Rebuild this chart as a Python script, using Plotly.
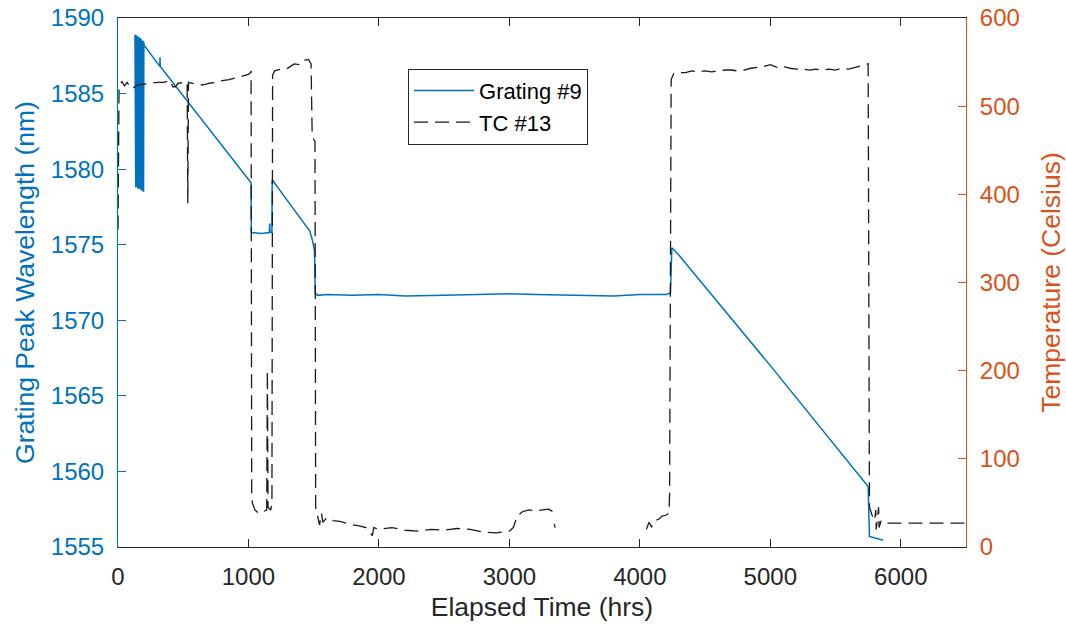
import plotly.graph_objects as go

# ---------------- data ----------------
# Grating #9 peak wavelength (nm) vs elapsed time (hrs)
grating_time = [130, 132, 134, 136, 138, 140, 142, 144, 146, 148, 150, 152, 154, 156, 158, 160, 162, 164,
                166, 168, 170, 172, 174, 176, 178, 180, 182, 184, 186, 188, 190, 192, 194, 196, 198,
                200, 320, 322, 324, 1020,
                1022, 1100, 1160, 1163, 1166, 1180,
                1182, 1300, 1400, 1470, 1490, 1500, 1506, 1512, 1530,
                1600, 1800, 2000, 2200, 2500, 2800, 3000, 3200, 3500, 3800, 4000, 4200, 4235,
                4245, 4300, 5000, 5750,
                5760, 5865]
grating_wl = [1588.9, 1578.8, 1588.9, 1578.8, 1588.9, 1578.8, 1588.8, 1578.8, 1588.8, 1578.8, 1588.8,
              1578.7, 1588.8, 1578.7, 1588.7, 1578.7, 1588.7, 1578.7, 1588.7, 1578.7, 1588.7, 1578.7,
              1588.6, 1578.6, 1588.6, 1578.6, 1588.6, 1578.6, 1588.5, 1578.6, 1588.5, 1578.5, 1588.5,
              1578.5, 1588.4,
              1588.2, 1586.8, 1587.4, 1586.8, 1579.1,
              1575.8, 1575.75, 1575.8, 1576.4, 1575.8, 1575.8,
              1579.3, 1577.9, 1576.7, 1575.9, 1575.3, 1574.7, 1574.6, 1571.8, 1571.65,
              1571.7, 1571.65, 1571.7, 1571.6, 1571.65, 1571.7, 1571.75, 1571.7, 1571.65, 1571.6,
              1571.7, 1571.7, 1571.8,
              1574.8, 1574.3, 1567.0, 1559.0,
              1555.7, 1555.45]

# TC #13 temperature (Celsius) vs elapsed time (hrs)
tc_time = [0, 8, 30, 50, 70, 100, 120, 150, 200, 250, 300, 350, 400, 420, 440, 460, 500, 530, 535, 540,
           600, 650, 700, 750, 800, 850, 900, 950, 1000, 1015, 1020,
           1025, 1030, 1050, 1080, 1110, 1140, 1145, 1150, 1170, 1180,
           1185, 1200, 1250, 1300, 1350, 1400, 1430, 1460, 1480, 1488, 1500, 1510,
           1515, 1530, 1545, 1560, 1570, 1600, 1650, 1700, 1750, 1800, 1850, 1900, 1950, 1960,
           2000, 2100, 2200, 2300, 2400, 2500, 2600, 2700, 2800, 2900, 2950, 3000, 3030, 3060,
           3100, 3150, 3200, 3250, 3300, 3335, 3340, 3345, 3350, 3360,
           4050, 4070, 4090, 4120, 4150, 4170, 4200, 4220, 4225, 4228,
           4240, 4260, 4300, 4350, 4400, 4450, 4500, 4550, 4600, 4650, 4700, 4750, 4800, 4850,
           4900, 4950, 5000, 5050, 5100, 5150, 5200, 5250, 5300, 5350, 5400, 5450, 5500, 5550,
           5600, 5650, 5700, 5740, 5750,
           5760, 5780, 5800, 5808, 5812, 5830, 5834, 5850, 5870, 5890, 6500]
tc_temp = [360, 522, 528, 523, 527, 520, 521, 524, 525, 526, 527, 527, 529, 522, 522, 526, 527, 527, 390, 527,
           525, 524, 526, 527, 529, 530, 532, 534, 536, 538, 540,
           60, 50, 42, 38, 40, 42, 200, 45, 42, 48,
           535, 540, 542, 543, 548, 547, 552, 553, 548, 470, 462, 460,
           45, 35, 25, 38, 28, 33, 30, 29, 27, 25, 24, 22, 13, 22,
           20, 22, 19, 18, 20, 19, 21, 20, 17, 16, 17, 18, 22, 35,
           40, 42, 41, 42, 43, 40, None, 26, 22, None,
           20, 28, 23, 30, 32, 35, 36, 38, 45, 60,
           530, 537, 538, 538, 540, 539, 540, 539, 540, 541, 541, 540, 541, 543,
           544, 545, 547, 544, 545, 543, 542, 542, 541, 542, 541, 542, 541, 543,
           542, 544, 546, 547, 548,
           45, 36, 30, 42, 20, 45, 22, 30, 28, 27, 27]

x_ticks = [0, 1000, 2000, 3000, 4000, 5000, 6000]
y_ticks = [1555, 1560, 1565, 1570, 1575, 1580, 1585, 1590]
y2_ticks = [0, 100, 200, 300, 400, 500, 600]

# ---------------- style ----------------
BLUE = "#0072BD"
ORANGE = "#D95319"
DARK = "#262626"
FONT = "Liberation Sans, Arial, sans-serif"

fig = go.Figure()
fig.add_trace(go.Scatter(x=grating_time, y=grating_wl, mode="lines", name="Grating #9",
                         line=dict(color=BLUE, width=1.5), yaxis="y"))
fig.add_trace(go.Scatter(x=tc_time, y=tc_temp, mode="lines", name="TC #13",
                         line=dict(color="#1a1a1a", width=1.3, dash="14px,7px"),
                         connectgaps=False, yaxis="y2"))

fig.update_layout(
    width=1066, height=632,
    margin=dict(l=118, r=100, t=18, b=85),
    paper_bgcolor="white", plot_bgcolor="white",
    font=dict(family=FONT, color=DARK),
    showlegend=True,
    legend=dict(x=0.342, y=0.904, xanchor="left", yanchor="top",
                bgcolor="white", bordercolor=DARK, borderwidth=1,
                font=dict(size=22, color="#000000"), itemwidth=60,
                tracegroupgap=0),
    xaxis=dict(range=[0, 6500], tickvals=x_ticks, ticks="inside", ticklen=8,
               tickcolor=DARK, showline=True, linecolor=DARK, linewidth=1,
               mirror="ticks", showgrid=False, zeroline=False, automargin=False,
               tickfont=dict(size=24, color=DARK), ticklabelstandoff=8,
               title=dict(text="Elapsed Time (hrs)", font=dict(size=26.5, color=DARK), standoff=8)),
    yaxis=dict(range=[1555, 1590], tickvals=y_ticks, ticks="inside", ticklen=8,
               tickcolor=BLUE, showline=True, linecolor=BLUE, linewidth=1,
               showgrid=False, zeroline=False, automargin=False,
               tickfont=dict(size=24, color=BLUE), ticklabelstandoff=8,
               title=dict(text="Grating Peak Wavelength (nm)", font=dict(size=26.5, color=BLUE), standoff=8)),
    yaxis2=dict(range=[0, 600], tickvals=y2_ticks, ticks="inside", ticklen=8,
                tickcolor=ORANGE, showline=True, linecolor=ORANGE, linewidth=1,
                overlaying="y", side="right", showgrid=False, zeroline=False, automargin=False,
                tickfont=dict(size=24, color=ORANGE), ticklabelstandoff=8,
                title=dict(text="Temperature (Celsius)", font=dict(size=26.5, color=ORANGE), standoff=23)),
)

fig.write_html("out.html")
